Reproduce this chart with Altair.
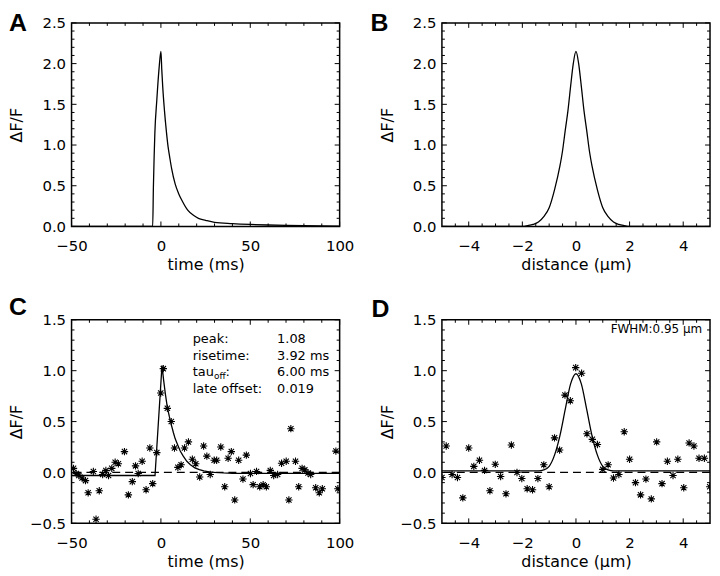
import altair as alt
import pandas as pd

# ---------------- data ----------------
# Panel A: model time course
A_T = [-50, -4.6, -4.2, -3.8, -3.4, -2.3, -1.0, 0, 0.5, 1, 2, 3, 4, 5, 6, 8, 10,
       12, 15, 18, 21, 25, 30, 40, 50, 60, 70, 80, 90, 100]
A_V = [0, 0, 0.49, 0.85, 1.14, 1.55, 1.95, 2.15, 1.92, 1.72, 1.42, 1.18, 0.98,
       0.84, 0.71, 0.52, 0.40, 0.31, 0.20, 0.14, 0.10, 0.075, 0.05, 0.035, 0.025,
       0.018, 0.013, 0.009, 0.006, 0.004]

# Panel B: model spatial profile
B_X = [-5, -2.0, -1.8, -1.6, -1.4, -1.2, -1.0, -0.8, -0.6, -0.5, -0.4, -0.3, -0.2,
       -0.1, 0, 0.1, 0.2, 0.3, 0.4, 0.5, 0.6, 0.8, 1.0, 1.2, 1.4, 1.6, 1.8, 2.0, 5]
B_V = [0, 0, 0.01, 0.025, 0.055, 0.12, 0.23, 0.45, 0.74, 0.93, 1.18, 1.42, 1.72,
       2.0, 2.15, 2.0, 1.72, 1.42, 1.18, 0.93, 0.74, 0.45, 0.23, 0.12, 0.055,
       0.025, 0.01, 0, 0]

# Panel C: measured time course (asterisks) and fit
C_T = [-48.9, -47.4, -45.9, -44.1, -42.2, -40.7, -37.8, -36.3, -34.5, -32.6,
       -30.8, -29.3, -27.5, -25.6, -23.8, -20.4, -18.2, -16.0, -14.2, -12.7,
       -10.5, -8.3, -6.2, -4.6, -2.3, -0.1, 1.35, 3.6, 5.8, 7.6, 9.5, 11.3,
       13.2, 15.4, 17.6, 19.5, 21.7, 23.9, 25.7, 27.6, 29.8, 31.2, 33.5, 35.7,
       37.6, 39.4, 41.3, 43.5, 45.9, 47.8, 50.1, 51.6, 53.5, 55.3, 57.2, 59.0,
       61.2, 63.1, 65.3, 67.5, 70.1, 71.6, 72.7, 75.3, 77.1, 79.0, 80.5, 82.3,
       83.8, 86.6, 88.6, 90.3, 97.9, 99.0]
C_V = [0.04, -0.01, -0.03, -0.055, -0.08, -0.20, 0.01, -0.46, -0.18, -0.02,
       0.02, -0.03, 0.04, 0.10, 0.085, 0.205, -0.22, -0.09, 0.065, -0.01,
       0.11, -0.17, 0.24, -0.11, 0.195, 0.78, 1.02, 0.63, 0.50, 0.24, 0.05, 0.075,
       0.24, 0.30, 0.13, 0.085, -0.045, 0.26, 0.16, -0.02, 0.12, 0.12, 0.25, -0.14,
       0.14, 0.205, -0.27, 0.12, -0.065, 0.17, -0.01, -0.12, 0.01, -0.14, -0.12, -0.14,
       0.02, -0.03, -0.02, 0.09, 0.11, -0.27, 0.43, 0.11, -0.14, 0.04, 0.025, -0.005,
       -0.02, -0.15, -0.20, -0.16, 0.21, -0.16]
C_FT = [-50, -3.3, 0.6, 1.5, 2.5, 3.6, 4.7, 5.8, 7, 8, 9.4, 10.8, 12.5, 14.5, 16.5,
        19, 21.5, 24, 27, 30, 35, 40, 100]
C_FV = [-0.03, -0.03, 1.05, 0.91, 0.77, 0.64, 0.55, 0.47, 0.39, 0.33, 0.27, 0.21,
        0.16, 0.11, 0.075, 0.045, 0.027, 0.015, 0.006, 0.0, -0.005, -0.008, -0.01]
C_LABELS = ["peak:", "risetime:", "", "late offset:"]
C_VALUES = ["1.08", "3.92 ms", "6.00 ms", "0.019"]

# Panel D: measured spatial profile (asterisks) and fit
D_X = [-5.0, -4.84, -4.62, -4.42, -4.22, -4.0, -3.81, -3.60, -3.41, -3.21, -3.01,
       -2.81, -2.61, -2.41, -2.2, -2.02, -1.82, -1.62, -1.42, -1.2, -1.0, -0.80,
       -0.61, -0.41, -0.21, -0.01, 0.21, 0.41, 0.61, 0.80, 1.0, 1.2, 1.4, 1.6, 1.8,
       2.0, 2.22, 2.41, 2.61, 2.81, 3.01, 3.21, 3.41, 3.62, 3.80, 4.02, 4.22, 4.40,
       4.59, 4.79, 4.99]
D_V = [-0.05, 0.26, -0.02, -0.05, -0.25, 0.24, 0.06, 0.12, 0.02, -0.18, 0.08,
       -0.04, -0.21, 0.27, 0.0, -0.06, -0.16, -0.17, -0.06, 0.075, -0.14, 0.34,
       0.22, 0.76, 0.705, 1.03, 0.975, 0.38, 0.325, 0.275, 0.03, 0.075, -0.055, -0.02,
       0.40, 0.13, -0.10, -0.22, -0.065, -0.26, 0.30, -0.11, 0.11, -0.03, 0.13, -0.15,
       0.29, 0.26, 0.14, 0.14, -0.14]
D_FX = [-5, -1.4, -1.2, -1.0, -0.8, -0.6, -0.4, -0.2, 0, 0.2, 0.4, 0.6, 0.8, 1.0,
        1.2, 1.4, 5]
D_FV = [0.016, 0.016, 0.025, 0.06, 0.17, 0.36, 0.62, 0.87, 0.97, 0.87, 0.62, 0.36,
        0.17, 0.06, 0.025, 0.016, 0.016]
D_NOTE = "FWHM:0.95 \u03bcm"

# axis ticks
T_MAJ = [-50, 0, 50, 100]
T_MIN = [-40, -30, -20, -10, 10, 20, 30, 40, 60, 70, 80, 90]
X_MAJ = [-4, -2, 0, 2, 4]
X_MIN = [-4.5, -3.5, -3, -2.5, -1.5, -1, -0.5, 0.5, 1, 1.5, 2.5, 3, 3.5, 4.5]
YA_MAJ = [0, 0.5, 1.0, 1.5, 2.0, 2.5]
YA_MIN = [0.1, 0.2, 0.3, 0.4, 0.6, 0.7, 0.8, 0.9, 1.1, 1.2, 1.3, 1.4, 1.6, 1.7,
          1.8, 1.9, 2.1, 2.2, 2.3, 2.4]
YC_MAJ = [-0.5, 0, 0.5, 1.0, 1.5]
YC_MIN = [-0.4, -0.3, -0.2, -0.1, 0.1, 0.2, 0.3, 0.4, 0.6, 0.7, 0.8, 0.9, 1.1,
          1.2, 1.3, 1.4]

# ---------------- styling ----------------
W, H = 270, 205
FONT = "DejaVu Sans"
LFONT = "Liberation Sans"
TL, TS = 5, 3
ASTERISK = ("M-1,0L1,0M0,-1L0,1M-0.72,-0.72L0.72,0.72M-0.72,0.72L0.72,-0.72")


def make_axes(xdom, ydom, xmaj, xtitle, ymaj):
    xs = alt.Scale(domain=xdom, nice=False, zero=False)
    ys = alt.Scale(domain=ydom, nice=False, zero=False)
    xa = alt.Axis(values=xmaj, format="d", title=xtitle, labelPadding=12,
                  labelFlush=False, labelOverlap=False, titleY=43,
                  titleBaseline="alphabetic")
    ya = alt.Axis(values=ymaj, format=".1f", title="\u0394F/F", labelPadding=6,
                  labelFlush=False, labelOverlap=False, titleX=-50,
                  titleY=H / 2, titleAngle=-90, titleBaseline="alphabetic")
    return xs, ys, xa, ya


def tick_layers(X, Y, xmaj, xmin, ymaj, ymin):
    out = []
    for vals, ln in ((xmaj, TL), (xmin, TS)):
        base = alt.Chart(pd.DataFrame({"x": vals})).mark_rule(
            color="black", strokeWidth=1)
        out.append(base.encode(x=X, y=alt.value(H), y2=alt.value(H - ln)))
        out.append(base.encode(x=X, y=alt.value(0), y2=alt.value(ln)))
    for vals, ln in ((ymaj, TL), (ymin, TS)):
        base = alt.Chart(pd.DataFrame({"y": vals})).mark_rule(
            color="black", strokeWidth=1)
        out.append(base.encode(y=Y, x=alt.value(0), x2=alt.value(ln)))
        out.append(base.encode(y=Y, x=alt.value(W), x2=alt.value(W - ln)))
    return out


def letter(s, lx, ly):
    return alt.Chart(pd.DataFrame({"s": [s]})).mark_text(
        align="left", baseline="top", font=LFONT, fontSize=25,
        fontWeight="bold", color="black").encode(
        text="s:N", x=alt.value(lx), y=alt.value(ly))


def txt(s, x, y, size=13, align="left"):
    return alt.Chart(pd.DataFrame({"s": [s]})).mark_text(
        align=align, baseline="middle", font=FONT, fontSize=size,
        color="black").encode(text="s:N", x=alt.value(x), y=alt.value(y))


def panel(line_x, line_y, xdom, ydom, xmaj, xmin, ymaj, ymin, xtitle, lab,
          lx, ly, pts=None, interp="monotone", extra=()):
    xs, ys, xa, ya = make_axes(xdom, ydom, xmaj, xtitle, ymaj)
    X = alt.X("x:Q", scale=xs, axis=xa)
    Y = alt.Y("y:Q", scale=ys, axis=ya)
    layers = []
    if pts is not None:
        layers.append(alt.Chart(pd.DataFrame({"y": [0]})).mark_rule(
            color="black", strokeWidth=1.3, strokeDash=[8, 5]).encode(y=Y))
    layers.append(alt.Chart(pd.DataFrame({"x": line_x, "y": line_y})).mark_line(
        color="black", strokeWidth=1.3, interpolate=interp, clip=True).encode(
        x=X, y=Y))
    if pts is not None:
        layers.append(alt.Chart(pd.DataFrame({"x": pts[0], "y": pts[1]})).mark_point(
            shape=ASTERISK, filled=False, stroke="black", strokeWidth=1.1,
            size=55, opacity=1, clip=True).encode(x=X, y=Y))
    layers += tick_layers(X, Y, xmaj, xmin, ymaj, ymin)
    layers.append(letter(lab, lx, ly))
    layers += list(extra)
    return alt.layer(*layers).properties(width=W, height=H)


ROWS = [19, 36, 53, 70]
c_extra = []
for i in range(4):
    if C_LABELS[i]:
        c_extra.append(txt(C_LABELS[i], 122, ROWS[i]))
    c_extra.append(txt(C_VALUES[i], 207, ROWS[i]))
c_extra.append(txt("tau", 122, ROWS[2]))
c_extra.append(txt("off", 143.5, ROWS[2] + 4, size=9))
c_extra.append(txt(":", 155, ROWS[2]))

d_extra = [txt(D_NOTE, 262, 9.4, size=12, align="right")]

pa = panel(A_T, A_V, [-50, 100], [0, 2.5], T_MAJ, T_MIN, YA_MAJ, YA_MIN,
           "time (ms)", "A", -63, -11.5, interp="monotone")
pb = panel(B_X, B_V, [-5, 5], [0, 2.5], X_MAJ, X_MIN, YA_MAJ, YA_MIN,
           "distance (\u03bcm)", "B", -72, -11.5, interp="monotone")
pc = panel(C_FT, C_FV, [-50, 100], [-0.5, 1.5], T_MAJ, T_MIN, YC_MAJ, YC_MIN,
           "time (ms)", "C", -63, -25, pts=(C_T, C_V), interp="linear",
           extra=c_extra)
pd_ = panel(D_FX, D_FV, [-5, 5], [-0.5, 1.5], X_MAJ, X_MIN, YC_MAJ, YC_MIN,
            "distance (\u03bcm)", "D", -71, -23, pts=(D_X, D_V), interp="monotone",
            extra=d_extra)

chart = alt.concat(pa, pb, pc, pd_, columns=2,
                   spacing={"row": 94, "column": 103}, bounds="flush").properties(
    padding=0
).configure_view(stroke="black", strokeWidth=1.5).configure_axis(
    domain=False, ticks=False, grid=False, labelFont=FONT, labelFontSize=15,
    labelColor="black", titleFont=FONT, titleFontSize=16,
    titleFontWeight="normal", titleColor="black")

chart.save("out.html", embed_options={"renderer": "svg", "actions": False})
